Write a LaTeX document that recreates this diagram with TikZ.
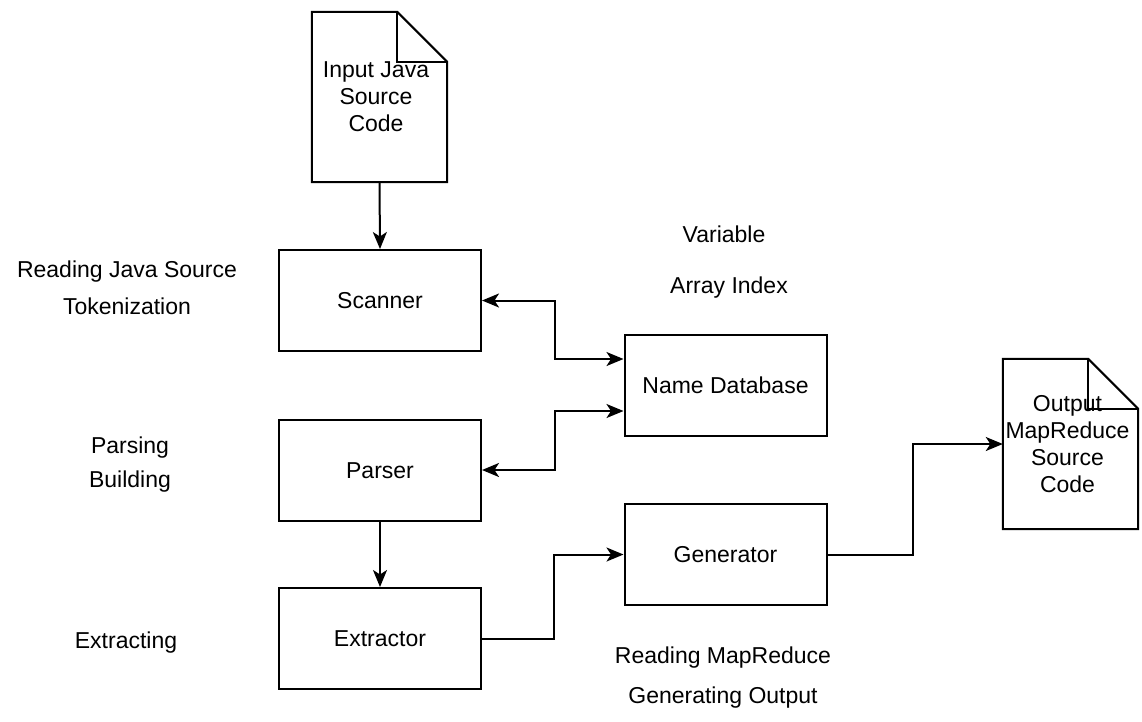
\documentclass[tikz,border=0pt]{standalone}
\usepackage{fontspec}
\setmainfont{Liberation Sans}
\usetikzlibrary{arrows.meta}
\begin{document}
\begin{tikzpicture}[x=1pt,y=-1pt,
  font=\fontsize{23}{27}\selectfont,
  box/.style={draw, line width=2pt, minimum width=202pt, minimum height=101pt,
    text height=16pt, text depth=0pt, inner sep=0pt},
  docbox/.style={minimum width=135pt, minimum height=170pt, inner sep=0pt},
  docline/.style={line width=2pt, line join=miter},
  doctext/.style={anchor=north, align=center, inner sep=0pt},
  lbl/.style={anchor=base, inner sep=0pt},
  flow/.style={line width=2pt, -{Stealth[length=17pt,width=14pt,inset=4.5pt]}},
  dflow/.style={line width=2pt, {Stealth[length=17pt,width=14pt,inset=4.5pt]}-{Stealth[length=17pt,width=14pt,inset=4.5pt]}}]
\useasboundingbox (0,0) rectangle (1142,721);

% processing stages
\node[box] (scanner)   at (380,300.5) {Scanner};
\node[box] (parser)    at (380,470)   {Parser};
\node[box] (extractor) at (380,638.5) {Extractor};
\node[box] (namedb)    at (725.5,385) {Name Database};
\node[box] (generator) at (725.5,554.5) {Generator};

% source and output documents (page with folded corner)
\node[docbox] (indoc)  at (379.5,97) {};
\node[docbox] (outdoc) at (1070.5,444) {};
\foreach \d in {indoc,outdoc}{
  \draw[docline] (\d.south west) -- (\d.north west) -- ([xshift=-50pt]\d.north east)
    -- ([yshift=-50pt]\d.north east) -- (\d.south east) -- cycle;
  \draw[docline] ([xshift=-50pt]\d.north east) -- ++(0,50) -- ([yshift=-50pt]\d.north east);
}
\node[doctext] (intext)  at (376,61)   {Input Java\\Source\\Code};
\node[doctext] (outtext) at (1067.5,395) {Output\\MapReduce\\Source\\Code};

% side annotations
\node[lbl] (l1) at (127,277) {Reading Java Source};
\node[lbl] (l2) at (127,314) {Tokenization};
\node[lbl] (l3) at (130,453) {Parsing};
\node[lbl] (l4) at (130,487) {Building};
\node[lbl] (l5) at (126,648) {Extracting};
\node[lbl] (l6) at (724,242) {Variable};
\node[lbl] (l7) at (729,293) {Array Index};
\node[lbl] (l8) at (723,663) {Reading MapReduce};
\node[lbl] (l9) at (723,703) {Generating Output};

% connectors
\draw[flow] (indoc.south) -- (scanner.north);
\draw[dflow] (scanner.east) -- ++(73,0) |- ([yshift=26pt]namedb.west);
\draw[dflow] (parser.east) -- ++(73,0) |- ([yshift=-26pt]namedb.west);
\draw[flow] (parser.south) -- (extractor.north);
\draw[flow] (extractor.east) -- ++(72,0) |- (generator.west);
\draw[flow] (generator.east) -- ++(85,0) |- (outdoc.west);
\end{tikzpicture}
\end{document}
